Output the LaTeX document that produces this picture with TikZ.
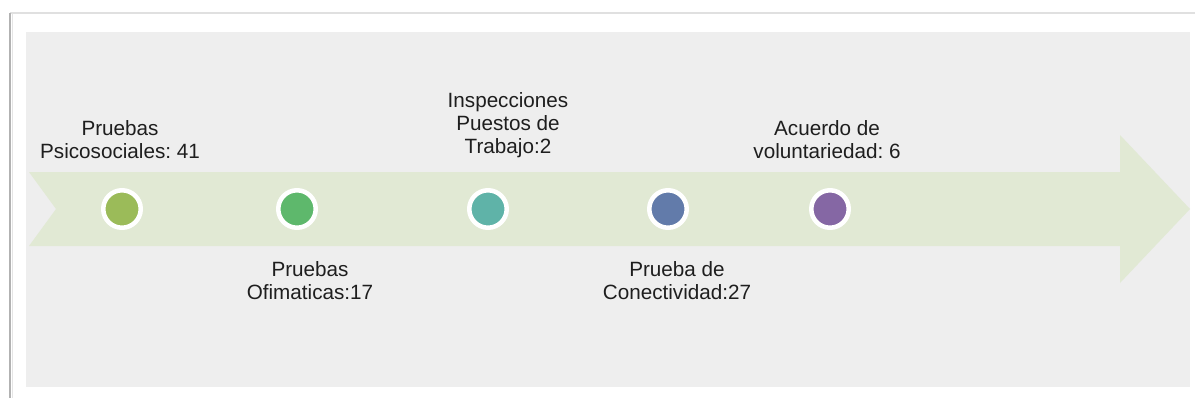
\documentclass[tikz,border=0pt]{standalone}
\usepackage{fontspec}
\setmainfont{Liberation Sans}
\usepackage{tikz}
\usetikzlibrary{calc}
\frenchspacing

\definecolor{panelgray}{RGB}{238,238,238}
\definecolor{bandgreen}{RGB}{225,233,212}
\definecolor{dotolive}{RGB}{155,187,89}
\definecolor{dotgreen}{RGB}{94,184,108}
\definecolor{dotteal}{RGB}{95,179,168}
\definecolor{dotblue}{RGB}{98,123,170}
\definecolor{dotpurple}{RGB}{133,103,164}
\definecolor{labeltext}{RGB}{30,30,30}

\tikzset{
  dot/.style={circle,draw=white,line width=3.4pt,minimum size=28.1pt,inner sep=0pt},
  lbl/.style={align=center,inner sep=0.75pt,text=labeltext,font=\fontsize{15.5}{17.3}\selectfont}
}

\begin{document}
\begin{tikzpicture}[x=0.75pt,y=0.75pt,yscale=-1,xscale=1]
\useasboundingbox (0,0) rectangle (1195,401);
\fill[white] (0,0) rectangle (1195,401);

%Frame shadow
\draw[color=black!12,line width=1.2pt] (10,13) -- (1195,13) ;
\draw[color=black!30,line width=1.5pt] (10,13) -- (10,398) ;
\draw[color=black!10,line width=1pt] (12.5,14) -- (12.5,398) ;

%Panel
\fill[panelgray] (26,32) rectangle (1190,387) ;

%Arrow band
\fill[bandgreen] (29,172) -- (1120,172) -- (1120,135) -- (1190,209) -- (1120,283) -- (1120,246) -- (29,246) -- (56,209) -- cycle ;

%Dots
\node[dot,fill=dotolive] (psico) at (122,209) {};
\node[dot,fill=dotgreen] (ofima) at (297,209) {};
\node[dot,fill=dotteal] (insp) at (488,209) {};
\node[dot,fill=dotblue] (conec) at (668,209) {};
\node[dot,fill=dotpurple] (acuer) at (830,209) {};

% Text Node
\node[lbl,anchor=south] (tpsico) at (120,160) {Pruebas\\Psicosociales: 41};
% Text Node
\node[lbl,anchor=north] (tofima) at (310,260) {Pruebas\\Ofimaticas:17};
% Text Node
\node[lbl,anchor=south] (tinsp) at (508,159) {Inspecciones\\Puestos de\\Trabajo:2};
% Text Node
\node[lbl,anchor=south] (tacuer) at (827,160) {Acuerdo de\\voluntariedad: 6};
% Text Node
\node[lbl,anchor=north] (tconec) at (677,260) {Prueba de\\Conectividad:27};

\end{tikzpicture}
\end{document}
